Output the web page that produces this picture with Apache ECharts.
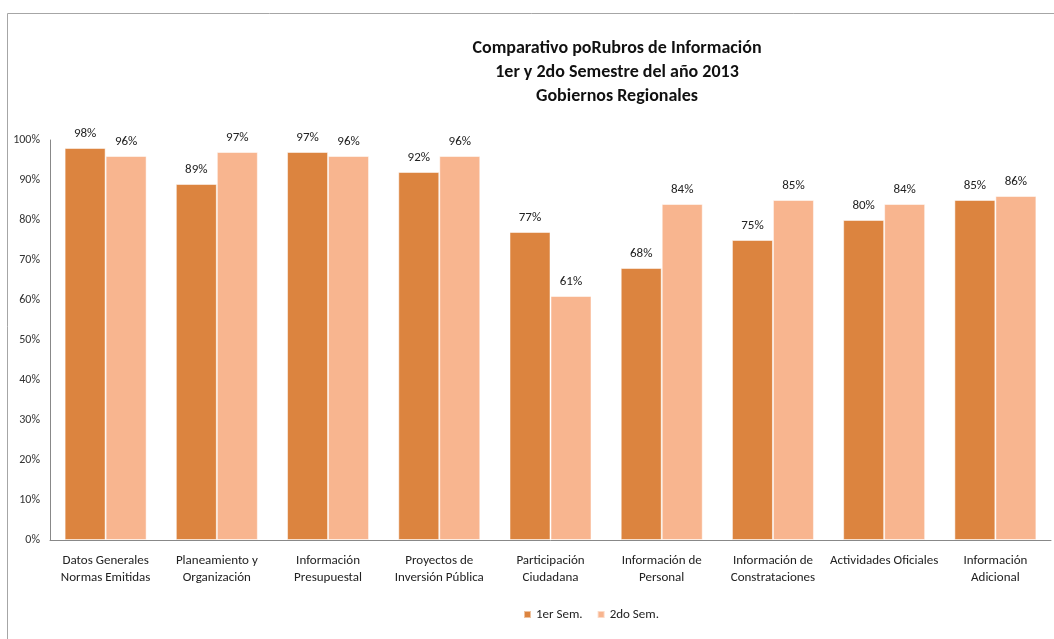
<!DOCTYPE html>
<html>
<head>
<meta charset="utf-8">
<script src="https://cdn.jsdelivr.net/npm/echarts@6/dist/echarts.min.js"></script>
<style>
  html, body { margin: 0; padding: 0; background: #fff; }
  #chart { width: 1054px; height: 639px; }
</style>
</head>
<body>
<div id="chart"></div>
<script>
// rubros
const categories = [
  "Datos Generales\nNormas Emitidas",
  "Planeamiento y\nOrganización",
  "Información\nPresupuestal",
  "Proyectos de\nInversión Pública",
  "Participación\nCiudadana",
  "Información de\nPersonal",
  "Información de\nConstrataciones",
  "Actividades Oficiales",
  "Información\nAdicional"
];
const sem1 = [98, 89, 97, 92, 77, 68, 75, 80, 85];
const sem2 = [96, 97, 96, 96, 61, 84, 85, 84, 86];
const yTicks = [0, 10, 20, 30, 40, 50, 60, 70, 80, 90, 100];

const font = "Carlito, Lato, 'Liberation Sans', sans-serif";
const chart = echarts.init(document.getElementById("chart"));

const option = {
  backgroundColor: "#fff",
  textStyle: { fontFamily: font },
  title: {
    text: "Comparativo poRubros de Información\n1er y 2do Semestre del año 2013\nGobiernos Regionales",
    left: 612,
    top: 31,
    textAlign: "center",
    textStyle: { fontFamily: font, fontSize: 18, fontWeight: "bold", color: "#111", lineHeight: 24 }
  },
  graphic: [{
    type: "rect",
    shape: { x: 7.5, y: 13.5, width: 1060, height: 640 },
    style: { fill: "none", stroke: "#a6a6a6", lineWidth: 1 },
    silent: true
  }],
  legend: {
    left: 518,
    top: 603,
    icon: "rect",
    itemWidth: 7,
    itemHeight: 7,
    itemGap: 14,
    textStyle: { fontFamily: font, fontSize: 13, color: "#222" },
    data: ["1er Sem.", "2do Sem."]
  },
  grid: { left: 50, right: 3, top: 140, bottom: 99 },
  xAxis: {
    type: "category",
    data: categories,
    axisLine: { lineStyle: { color: "#888" } },
    axisTick: { show: false },
    axisLabel: { interval: 0, margin: 12, fontSize: 13, lineHeight: 17, color: "#222", fontFamily: font }
  },
  yAxis: {
    type: "value",
    min: yTicks[0],
    max: yTicks[yTicks.length - 1],
    interval: 10,
    splitLine: { show: false },
    axisLine: { show: true, lineStyle: { color: "#888" } },
    axisTick: { show: false },
    axisLabel: { formatter: "{value}%", fontSize: 12, color: "#333", margin: 10, fontFamily: font }
  },
  series: [
    {
      name: "1er Sem.",
      type: "bar",
      data: sem1,
      barWidth: 41,
      barGap: "0%",
      itemStyle: { color: "#dc843f", borderColor: "rgba(255,255,255,0.5)", borderWidth: 1 },
      label: { show: true, position: "top", distance: 8, formatter: "{c}%", fontSize: 13, color: "#222", fontFamily: font }
    },
    {
      name: "2do Sem.",
      type: "bar",
      data: sem2,
      barWidth: 41,
      itemStyle: { color: "#f8b58f", borderColor: "rgba(255,255,255,0.5)", borderWidth: 1 },
      label: { show: true, position: "top", distance: 8, formatter: "{c}%", fontSize: 13, color: "#222", fontFamily: font }
    }
  ]
};

chart.setOption(option);
</script>
</body>
</html>
